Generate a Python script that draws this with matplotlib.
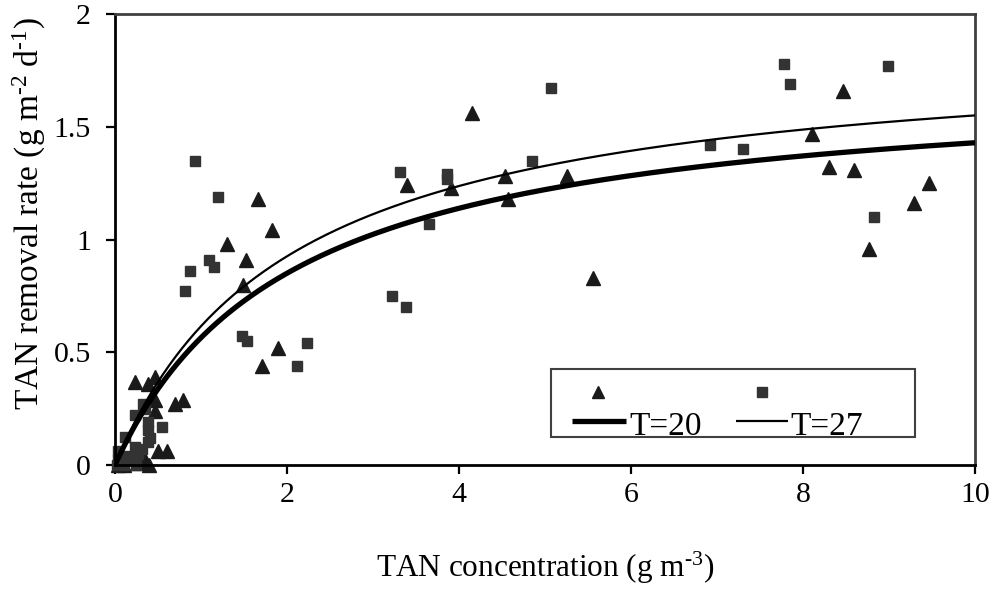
import matplotlib
matplotlib.use("Agg")
import matplotlib.pyplot as plt
import numpy as np
from matplotlib.patches import Rectangle

plt.rcParams['font.family'] = ['Liberation Serif', 'DejaVu Serif']
plt.rcParams['mathtext.fontset'] = 'custom'
plt.rcParams['mathtext.rm'] = 'Liberation Serif'
plt.rcParams['mathtext.it'] = 'Liberation Serif:italic'

# T=20 observations (triangles)
t20_x = [0.03, 0.10, 0.27, 0.35, 0.40, 0.23, 0.38, 0.47, 0.47, 0.47, 0.70, 0.79, 0.50, 0.60,
         1.49, 1.52, 1.30, 1.66, 1.83, 1.71, 1.90, 3.40, 3.91, 4.15, 4.53, 4.57, 5.26, 5.56,
         8.10, 8.30, 8.47, 8.59, 8.77, 9.29, 9.47]
t20_y = [0.00, 0.00, 0.01, 0.02, 0.00, 0.37, 0.36, 0.39, 0.29, 0.24, 0.27, 0.29, 0.06, 0.06,
         0.80, 0.91, 0.98, 1.18, 1.04, 0.44, 0.52, 1.24, 1.23, 1.56, 1.28, 1.18, 1.28, 0.83,
         1.47, 1.32, 1.66, 1.31, 0.96, 1.16, 1.25]

# T=27 observations (squares)
t27_x = [0.02, 0.05, 0.03, 0.04, 0.12, 0.15, 0.20, 0.23, 0.27, 0.31, 0.23, 0.33, 0.35, 0.38,
         0.38, 0.38, 0.41, 0.55, 0.25, 0.10,
         0.81, 0.87, 0.93, 1.09, 1.15, 1.20, 1.48, 1.53, 2.12, 2.23, 3.22, 3.38, 3.31, 3.65,
         3.86, 3.86, 4.85, 5.07, 6.92, 7.30, 7.78, 7.85, 8.83, 8.99]
t27_y = [0.00, 0.01, 0.02, 0.06, 0.125, 0.04, 0.02, 0.08, 0.05, 0.07, 0.22, 0.27, 0.25, 0.19,
         0.155, 0.10, 0.12, 0.17, 0.00, 0.00,
         0.77, 0.86, 1.35, 0.91, 0.88, 1.19, 0.57, 0.55, 0.44, 0.54, 0.75, 0.70, 1.30, 1.07,
         1.29, 1.27, 1.35, 1.67, 1.42, 1.40, 1.78, 1.69, 1.10, 1.77]

# Monod fit parameters
vmax_20, k_20 = 1.722, 2.05
vmax_27, k_27 = 1.865, 2.03

x_ticks = [0, 2, 4, 6, 8, 10]
y_ticks = [0, 0.5, 1, 1.5, 2]
y_ticklabels = ['0', '0.5', '1', '1.5', '2']

fig = plt.figure(figsize=(9.95, 5.92), dpi=100)
ax = fig.add_axes([115/995, 127/592, 860/995, 451/592])

ax.plot(t20_x, t20_y, linestyle='none', marker='^', ms=10, color='#1a1a1a', zorder=2, clip_on=False)
ax.plot(t27_x, t27_y, linestyle='none', marker='s', ms=7.5, color='#333333', zorder=2, clip_on=False)

xc = np.linspace(0, 10, 400)
ax.plot(xc, vmax_20 * xc / (k_20 + xc), color='black', lw=3.8, zorder=3, solid_capstyle='butt')
ax.plot(xc, vmax_27 * xc / (k_27 + xc), color='black', lw=1.6, zorder=3, solid_capstyle='butt')

ax.set_xlim(0, 10)
ax.set_ylim(0, 2)
ax.set_xticks(x_ticks)
ax.set_xticklabels([str(v) for v in x_ticks])
ax.set_yticks(y_ticks)
ax.set_yticklabels(y_ticklabels)
ax.tick_params(direction='out', length=6.5, width=1.6, labelsize=21.5, color='black')
ax.tick_params(axis='x', pad=5.5)
ax.tick_params(axis='y', pad=10.8)

for s in ['left', 'bottom']:
    ax.spines[s].set_linewidth(2)
    ax.spines[s].set_color('black')
for s in ['top', 'right']:
    ax.spines[s].set_linewidth(2)
    ax.spines[s].set_color('#404040')

ax.set_xlabel(r'TAN concentration (g m$^{\text{-3}}$)', fontsize=22.5, labelpad=30)
fig.text(29/995, 1 - 214/592, r'TAN removal rate (g m$^{\text{-2}}$ d$^{\text{-1}}$)',
         rotation=90, ha='center', va='center', fontsize=24)

# legend box
ax.add_patch(Rectangle((0.507, 0.062), 0.423, 0.151, transform=ax.transAxes,
                       fill=True, facecolor='white', edgecolor='#404040', lw=1.5, zorder=5))
ax.plot([0.531, 0.594], [0.0976, 0.0976], transform=ax.transAxes, color='black', lw=3.8, zorder=6,
        solid_capstyle='butt')
ax.plot([0.562], [0.162], transform=ax.transAxes, marker='^', ms=8.5, color='#1a1a1a', zorder=6)
ax.text(0.598, 0.084, 'T=20', transform=ax.transAxes, fontsize=24, va='center', ha='left', zorder=6)
ax.plot([0.722, 0.783], [0.0976, 0.0976], transform=ax.transAxes, color='black', lw=1.6, zorder=6,
        solid_capstyle='butt')
ax.plot([0.752], [0.162], transform=ax.transAxes, marker='s', ms=7, color='#333333', zorder=6)
ax.text(0.785, 0.084, 'T=27', transform=ax.transAxes, fontsize=24, va='center', ha='left', zorder=6)

fig.savefig('out.png', dpi=100)
